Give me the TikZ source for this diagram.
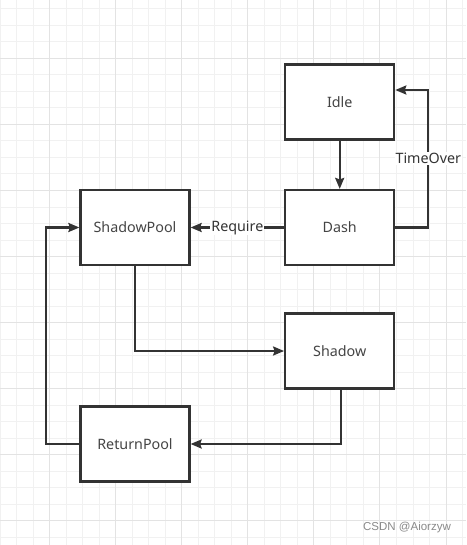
\documentclass[tikz,border=0pt]{standalone}
\usepackage{fontspec}
\setmainfont{Noto Sans}
\newfontfamily\wmfont{Liberation Sans}
\usetikzlibrary{arrows.meta}
\definecolor{ink}{HTML}{333333}
\definecolor{txt}{HTML}{444444}
\definecolor{gminor}{HTML}{F1F1F1}
\definecolor{gmajor}{HTML}{E3E3E3}
\definecolor{wmgray}{HTML}{8A8A8A}
\begin{document}
\begin{tikzpicture}[x=1pt,y=-1pt,
  box/.style={draw=ink,line width=2.2pt,fill=white,minimum width=109pt,minimum height=75pt,inner sep=0pt,font=\fontsize{14.3}{16}\selectfont,text=txt},
  edge/.style={draw=ink,line width=2.2pt,-{Stealth[length=11pt,width=9pt,inset=1.5pt]}},
  lbl/.style={fill=white,inner sep=1pt,text=ink,font=\fontsize{14.3}{16}\selectfont}]
\useasboundingbox (0,0) rectangle (466,545);
\fill[white] (0,0) rectangle (466,545);
% grid
\foreach \k in {0,...,28}{\draw[gminor,line width=1pt] ({16.52*\k},0) -- ({16.52*\k},545);}
\foreach \k in {0,...,32}{\draw[gminor,line width=1pt] (0,{8.8+16.52*\k}) -- (466,{8.8+16.52*\k});}
\foreach \k in {3,7,...,27}{\draw[gmajor,line width=1pt] ({16.52*\k},0) -- ({16.52*\k},545);}
\foreach \k in {3,7,...,31}{\draw[gmajor,line width=1pt] (0,{8.8+16.52*\k}) -- (466,{8.8+16.52*\k});}
% nodes
\node[box] (idle) at (339.7,102) {Idle};
\node[box] (dash) at (339.7,227.5) {Dash};
\node[box] (spool) at (135,227.5) {ShadowPool};
\node[box] (shadow) at (339.7,351) {Shadow};
\node[box] (rpool) at (135,444) {ReturnPool};
% edges
\draw[edge] (idle.south) -- (dash.north);
\draw[edge] (dash.east) -- ++(33,0) -- node[lbl]{TimeOver} ++(0,-137.5) -- ([yshift=12pt]idle.east);
\draw[edge] (dash.west) -- node[lbl]{Require} (spool.east);
\draw[edge] (spool.south) |- (shadow.west);
\draw[edge] ([xshift=1pt]shadow.south) |- (rpool.east);
\draw[edge] (rpool.west) -- ++(-33.3,0) |- (spool.west);
% watermark
\node[text=wmgray,font=\wmfont\fontsize{11.5}{13}\selectfont,inner sep=0pt] (wm) at (407,528) {CSDN @Aiorzyw};
\end{tikzpicture}
\end{document}
